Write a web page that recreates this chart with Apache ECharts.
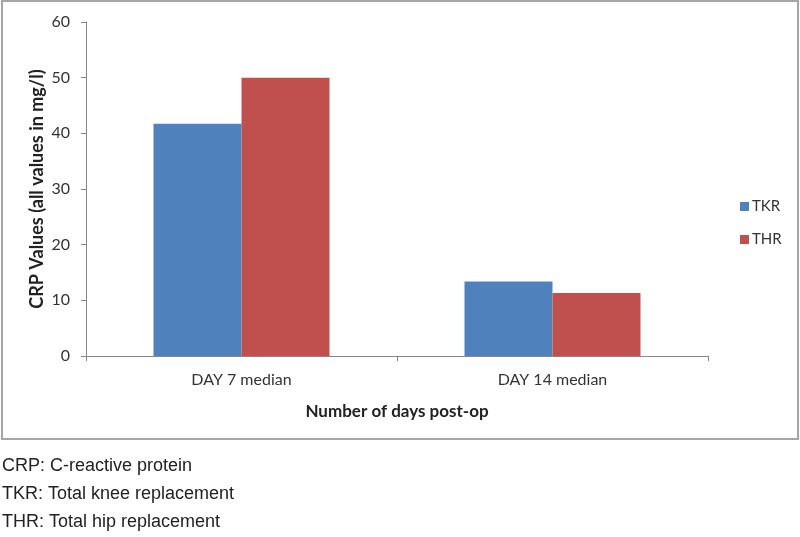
<!DOCTYPE html>
<html>
<head>
<meta charset="utf-8">
<script src="https://cdn.jsdelivr.net/npm/echarts@6/dist/echarts.min.js"></script>
<style>
html,body{margin:0;padding:0;background:#fff;}
#chart{width:800px;height:537px;}
</style>
</head>
<body>
<div id="chart"></div>
<script>
const categories = ['DAY 7 median', 'DAY 14 median'];
const tkrValues = [41.7, 13.4];
const thrValues = [50.0, 11.3];
const seriesNames = ['TKR', 'THR'];
const footnotes = ['CRP: C-reactive protein', 'TKR: Total knee replacement', 'THR: Total hip replacement'];

const chart = echarts.init(document.getElementById('chart'));
const fontFam = 'Lato, "Open Sans", sans-serif';
chart.setOption({
  animation: false,
  backgroundColor: '#fff',
  grid: {left: 86, right: 92, top: 22, bottom: 181, containLabel: false},
  legend: {
    orient: 'vertical', left: 735, top: 194, itemGap: 18,
    itemWidth: 9, itemHeight: 9, icon: 'rect',
    textStyle: {fontFamily: fontFam, fontSize: 15, color: '#333', padding: [0,0,0,-2]},
    data: seriesNames
  },
  xAxis: {
    type: 'category', data: categories,
    name: 'Number of days post-op', nameLocation: 'middle', nameGap: 47,
    nameMoveOverlap: false,
    nameTextStyle: {fontFamily: fontFam, fontSize: 17, fontWeight: 'bold', color: '#222'},
    axisLine: {lineStyle: {color: '#868686', width: 1}},
    axisTick: {show: true, length: 5, lineStyle: {color: '#868686'}},
    axisLabel: {fontFamily: fontFam, fontSize: 16, color: '#333', margin: 16}
  },
  yAxis: {
    type: 'value', min: 0, max: 60, interval: 10,
    name: 'CRP Values (all values in mg/l)', nameLocation: 'middle', nameGap: 40,
    nameMoveOverlap: false,
    nameTextStyle: {fontFamily: fontFam, fontSize: 18, fontWeight: 'bold', color: '#222'},
    axisLine: {show: true, lineStyle: {color: '#868686', width: 1}},
    axisTick: {show: true, length: 5, lineStyle: {color: '#868686'}},
    axisLabel: {fontFamily: fontFam, fontSize: 16, color: '#333', margin: 16},
    splitLine: {show: false}
  },
  series: [
    {name: seriesNames[0], type: 'bar', data: tkrValues, barWidth: 88, barGap: '0%', itemStyle: {color: '#4F81BD'}},
    {name: seriesNames[1], type: 'bar', data: thrValues, barWidth: 88, barGap: '0%', itemStyle: {color: '#C0504D'}}
  ],
  graphic: [
    {type: 'rect', shape: {x: 2, y: 1, width: 796, height: 438}, style: {fill: 'none', stroke: '#a6a6a6', lineWidth: 2}, silent: true},
    ...footnotes.map((t, i) => ({
      type: 'text', left: 2, top: 457 + i * 28,
      style: {text: t, fontFamily: '"Liberation Sans", Arial, sans-serif', fontSize: 18, fill: '#222'}
    }))
  ]
});
</script>
</body>
</html>
